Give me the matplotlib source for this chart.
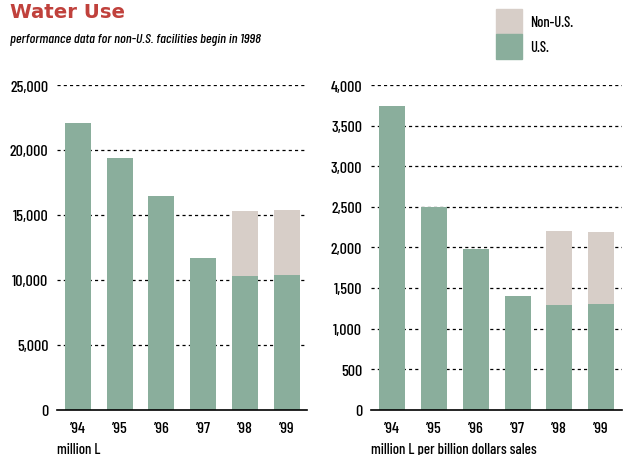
"""Water Use — total and per-sales water use, U.S. vs non-U.S. facilities ('94-'99)."""
import matplotlib
matplotlib.use("Agg")
import matplotlib.pyplot as plt
from matplotlib.patches import Rectangle

years = ["\u201994", "\u201995", "\u201996", "\u201997", "\u201998", "\u201999"]
total_us = [22100, 19400, 16450, 11680, 10290, 10370]
total_non_us = [0, 0, 0, 0, 5010, 5000]
per_sales_us = [3740, 2500, 1980, 1400, 1290, 1300]
per_sales_non_us = [0, 0, 0, 0, 910, 890]

C_US, C_NON, C_TITLE = "#8aae9c", "#d7cec8", "#c0413c"
FONT = ["Barlow Condensed", "DejaVu Sans"]
TITLE_FONT = ["DejaVu Sans"]
plt.rcParams.update({"font.family": FONT, "font.size": 11, "font.weight": 500})


def draw(ax, us, non_us, ymax, step, unit):
    x = range(len(years))
    ax.bar(x, us, width=0.62, color=C_US, zorder=3)
    ax.bar(x, non_us, bottom=us, width=0.62, color=C_NON, zorder=3)
    ax.set_xlim(-0.51, 5.49)
    ax.set_ylim(0, ymax)
    ticks = list(range(0, ymax + 1, step))
    ax.set_yticks(ticks)
    ax.set_yticklabels([f"{t:,}" for t in ticks])
    ax.set_xticks(list(x))
    ax.set_xticklabels(years)
    for t in ticks[1:]:
        ax.axhline(t, color="black", linewidth=0.9, linestyle=(0, (2.5, 2.5)), zorder=1)
    for s in ("top", "right", "left"):
        ax.spines[s].set_visible(False)
    ax.spines["bottom"].set_linewidth(1.2)
    ax.spines["bottom"].set_zorder(4)
    ax.tick_params(axis="y", length=0, pad=6, labelsize=11.5)
    ax.tick_params(axis="x", length=0, pad=8, labelsize=11.5)
    ax.text(0, -0.12, unit, transform=ax.transAxes, ha="left", va="center", fontsize=10.7)


def main():
    fig = plt.figure(figsize=(6.23, 4.56), dpi=100)
    axL = fig.add_axes([0.091, 0.0993, 0.4018, 0.712])
    axR = fig.add_axes([0.595, 0.0993, 0.403, 0.712])
    draw(axL, total_us, total_non_us, 25000, 5000, "million L")
    draw(axR, per_sales_us, per_sales_non_us, 4000, 500, "million L per billion dollars sales")

    fig.text(10 / 623, 1 - 13 / 456, "Water Use", color=C_TITLE, fontsize=14.2,
             fontweight="bold", family=TITLE_FONT, ha="left", va="center")
    fig.text(10 / 623, 1 - 40 / 456, "performance data for non-U.S. facilities begin in 1998",
             fontsize=10, style="italic", ha="left", va="center")

    # legend: stacked swatches top right
    fig.patches.append(Rectangle((496 / 623, 1 - 35 / 456), 26 / 623, 25 / 456,
                                 transform=fig.transFigure, color=C_NON))
    fig.patches.append(Rectangle((496 / 623, 1 - 60 / 456), 26 / 623, 25 / 456,
                                 transform=fig.transFigure, color=C_US))
    fig.text(530 / 623, 1 - 23 / 456, "Non-U.S.", fontsize=10.5, ha="left", va="center")
    fig.text(530 / 623, 1 - 48 / 456, "U.S.", fontsize=10.5, ha="left", va="center")

    fig.savefig("out.png", dpi=100)
    plt.close(fig)


if __name__ == "__main__":
    main()
